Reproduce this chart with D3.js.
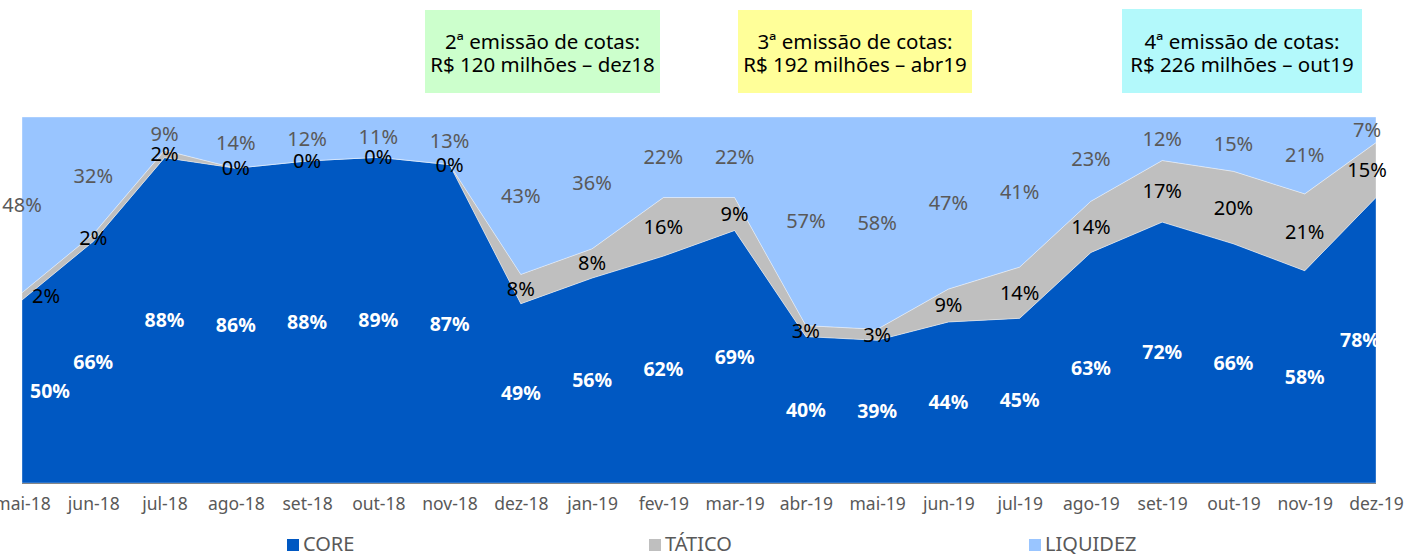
<!DOCTYPE html>
<html><head><meta charset="utf-8">
<script src="https://cdn.jsdelivr.net/npm/d3@7"></script>
<style>
html,body{margin:0;padding:0;background:#fff;}
svg{display:block;font-family:"Noto Sans","Open Sans",sans-serif;}
</style></head>
<body>
<svg id="chart" width="1407" height="554"></svg>
<script>
const categories = ["mai-18","jun-18","jul-18","ago-18","set-18","out-18","nov-18","dez-18","jan-19","fev-19","mar-19","abr-19","mai-19","jun-19","jul-19","ago-19","set-19","out-19","nov-19","dez-19"];
const core     = [50,66,88,86,88,89,87,49,56,62,69,40,39,44,45,63,72,66,58,78];
const tatico   = [2,2,2,0,0,0,0,8,8,16,9,3,3,9,14,14,17,20,21,15];
const liquidez = [48,32,9,14,12,11,13,43,36,22,22,57,58,47,41,23,12,15,21,7];
const seriesNames = ["CORE","TÁTICO","LIQUIDEZ"];
const annotations = [
  ["2ª emissão de cotas:", "R$ 120 milhões – dez18"],
  ["3ª emissão de cotas:", "R$ 192 milhões – abr19"],
  ["4ª emissão de cotas:", "R$ 226 milhões – out19"]
];

const colors = {"CORE":"#0058C2","TÁTICO":"#BFBFBF","LIQUIDEZ":"#99C5FF"};
const labelColors = {"CORE":"#FFFFFF","TÁTICO":"#000000","LIQUIDEZ":"#595959"};
const svg = d3.select("#chart");
const L = 22, R = 1376, T = 117, B = 483;

const rows = categories.map((c,i)=>({cat:c, "CORE":core[i], "TÁTICO":tatico[i], "LIQUIDEZ":liquidez[i]}));
const stack = d3.stack().keys(seriesNames).offset(d3.stackOffsetExpand);
const layers = stack(rows);

const x = d3.scalePoint().domain(categories).range([L,R]);
const y = d3.scaleLinear().domain([0,1]).range([B,T]);

const area = d3.area().x(d=>x(d.data.cat)).y0(d=>y(d[0])).y1(d=>y(d[1]));

svg.append("g").selectAll("path").data(layers).join("path")
  .attr("d", area)
  .attr("fill", d=>colors[d.key])
  .attr("stroke", "#ffffff").attr("stroke-width", 0.6).attr("stroke-opacity", 0.6);

// bottom axis line
svg.append("line").attr("x1",L).attr("x2",R).attr("y1",B+0.5).attr("y2",B+0.5)
  .attr("stroke","#868686").attr("stroke-width",1.2);

// axis labels
const xAxis = d3.axisBottom(x).tickSize(0).tickPadding(15);
const ax = svg.append("g").attr("transform",`translate(0,${B})`).call(xAxis);
ax.select(".domain").remove();
ax.selectAll("text").attr("font-size",17.5).attr("fill","#595959")
  .attr("font-family","'Noto Sans','Open Sans',sans-serif");

// data labels
const n = categories.length;
layers.forEach(layer=>{
  const key = layer.key;
  const g = svg.append("g");
  layer.forEach((d,i)=>{
    const raw = d.data[key];
    let cx = x(d.data.cat);
    if (i===0 && key!=="LIQUIDEZ") cx += (key==="CORE"?28:24);
    if (i===n-1) cx += (key==="CORE"?-16:-9);
    const cy = (y(d[0])+y(d[1]))/2;
    g.append("text")
      .attr("x",cx).attr("y",cy).attr("dy","0.35em")
      .attr("text-anchor","middle")
      .attr("font-size", key==="CORE"?19.5:20)
      .attr("font-weight", key==="CORE"?"bold":"normal")
      .attr("fill", labelColors[key])
      .text(raw+"%");
  });
});

// annotations
const boxes = [
  {x:425,y:10,w:235,h:83,fill:"#CCFFCC"},
  {x:738,y:10,w:234,h:83,fill:"#FFFF99"},
  {x:1122,y:9,w:240,h:84,fill:"#B3F9FB"}
];
annotations.forEach((lines,i)=>{
  const b = boxes[i];
  svg.append("rect").attr("x",b.x).attr("y",b.y).attr("width",b.w).attr("height",b.h).attr("fill",b.fill);
  const t = svg.append("text").attr("text-anchor","middle").attr("font-size",20.5).attr("fill","#000");
  lines.forEach((ln,j)=>{
    t.append("tspan").attr("x",b.x+b.w/2).attr("y",49+j*23).text(ln);
  });
});

// legend
const legendX = [287, 649, 1029];
seriesNames.forEach((s,i)=>{
  const g = svg.append("g").attr("transform",`translate(${legendX[i]},544)`);
  g.append("rect").attr("x",0).attr("y",-5).attr("width",12).attr("height",12).attr("fill",colors[s]);
  g.append("text").attr("x",16).attr("y",0).attr("dy","0.35em").attr("font-size",20).attr("fill","#595959").text(s);
});
</script>
</body></html>
